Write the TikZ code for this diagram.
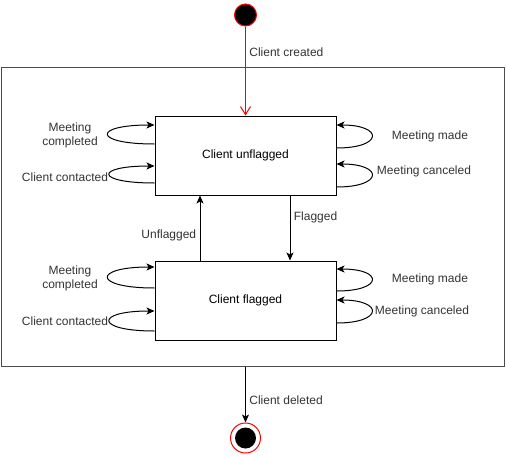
\documentclass[tikz,border=0pt]{standalone}
\usepackage{fontspec}
\setmainfont{Liberation Sans}
\usetikzlibrary{arrows.meta}
\begin{document}
\begin{tikzpicture}[x=1pt,y=-1pt,line width=1pt,
  state/.style={draw,fill=white,minimum width=181pt,minimum height=79pt,inner sep=0pt,font=\fontsize{12}{14}\selectfont},
  lbl/.style={text=black!80,align=center,font=\fontsize{12}{14}\selectfont},
  tr/.style={draw,-{Stealth[length=8pt,width=7pt,inset=2pt]}}]
\useasboundingbox (0,0) rectangle (506,456);
\node[draw=black!70,minimum width=503.5pt,minimum height=299pt,inner sep=0pt] (frame) at (253,216.5) {};
\node[circle,draw=red,fill=black,minimum size=22pt,inner sep=0pt] (start) at (245.5,15) {};
\node[state] (unf) at (245.5,155.5) {Client unflagged};
\node[state] (fl) at (245.5,300.5) {Client flagged};
\node[circle,draw=red,minimum size=30pt,inner sep=0pt] (end) at (245.5,438) {};
\node[circle,fill=black,minimum size=21pt,inner sep=0pt] (endin) at (end) {};
\path[draw,red,-{Straight Barb[length=8pt,width=10pt]}] (start) -- (unf)
node[lbl,pos=0.29,right] {Client created};
\path[tr] ([xshift=44.5pt]unf.south) -- ([xshift=44.5pt]fl.north)
node[lbl,pos=0.33,right] {Flagged};
\path[tr] ([xshift=-45.5pt]fl.north) -- ([xshift=-45.5pt]unf.south)
node[lbl,pos=0.38,left] {Unflagged};
\path[tr] (frame.south -| end) -- (end)
node[lbl,pos=0.61,right] {Client deleted};
% self loops, client unflagged
\path[tr] ([yshift=11.5pt]unf.west) .. controls +(-62,0) and +(-62,0) .. ([yshift=30.5pt]unf.west);
\path[tr] ([yshift=-27.5pt]unf.west) .. controls +(-60,0) and +(-60,0) .. ([yshift=-10.5pt]unf.west);
\path[tr] ([yshift=7.5pt]unf.east) .. controls +(47,0) and +(47,0) .. ([yshift=30.5pt]unf.east);
\path[tr] ([yshift=-31.5pt]unf.east) .. controls +(47,0) and +(47,0) .. ([yshift=-8.5pt]unf.east);
\node[lbl] (unfcomp) at (70,135) {Meeting\\completed};
\node[lbl] (unfcont) at (65,177) {Client contacted};
\node[lbl] (unfmade) at (430,136) {Meeting made};
\node[lbl] (unfcanc) at (424,171) {Meeting canceled};
% self loops, client flagged
\path[tr] ([yshift=12.5pt]fl.west) .. controls +(-62,0) and +(-62,0) .. ([yshift=33.5pt]fl.west);
\path[tr] ([yshift=-30.5pt]fl.west) .. controls +(-60,0) and +(-60,0) .. ([yshift=-10.5pt]fl.west);
\path[tr] ([yshift=9.5pt]fl.east) .. controls +(47,0) and +(47,0) .. ([yshift=31.5pt]fl.east);
\path[tr] ([yshift=-22.5pt]fl.east) .. controls +(47,0) and +(47,0) .. ([yshift=0.5pt]fl.east);
\node[lbl] (flcomp) at (70,278) {Meeting\\completed};
\node[lbl] (flcont) at (65,321) {Client contacted};
\node[lbl] (flmade) at (430,279) {Meeting made};
\node[lbl] (flcanc) at (422,311) {Meeting canceled};
\end{tikzpicture}
\end{document}
